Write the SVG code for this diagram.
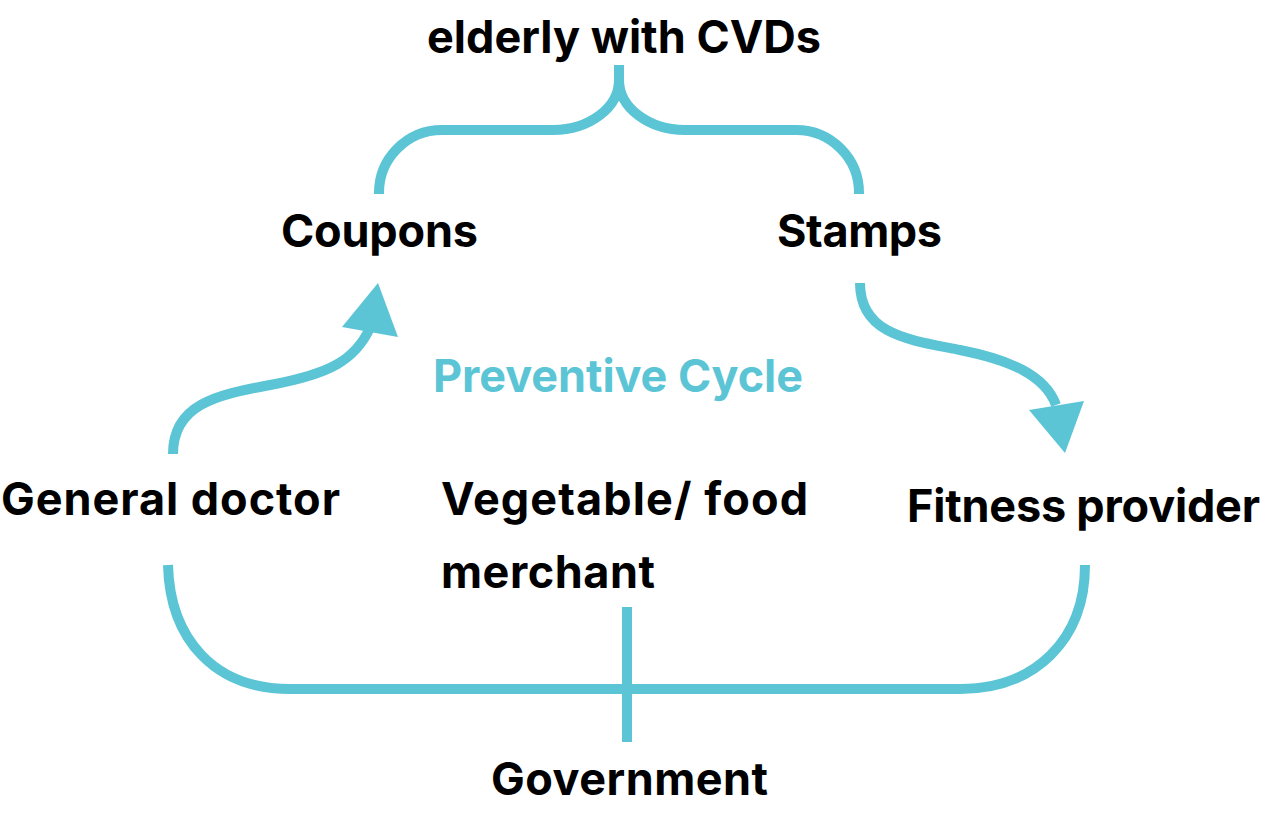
<svg xmlns="http://www.w3.org/2000/svg" width="1262" height="816" viewBox="0 0 1262 816">
<style>
.lbl{font-family:Inter,"Liberation Sans",sans-serif;font-weight:700;font-size:45px;fill:#000}
.cyc{fill:#5BC5D5}
.ln{fill:none;stroke:#5BC5D5;stroke-width:10}
.hd{fill:#5BC5D5}
</style>
<rect width="1262" height="816" fill="#fff"/>
<g id="connectors">
<path class="ln" d="M379,194 A63,63 0 0 1 442,130 H553 A66,50 0 0 0 619,80 V65 M619,80 A66,50 0 0 0 685,130 H796 A63,63 0 0 1 859,194"/>
<path class="ln" d="M173,454 C173,405 215,395 270,385 C330,374 355,360 370,328"/>
<polygon class="hd" points="378,283 342,327 398,337"/>
<path class="ln" d="M860,283 C860,335 910,340 960,350 C1010,360 1045,375 1056,405"/>
<polygon class="hd" points="1065,453 1029,410 1084,401"/>
<path class="ln" d="M168,565 C170,640 215,689 290,689 H960 C1035,689 1085,640 1085,565"/>
<path class="ln" d="M627,607 V742"/>
</g>
<g id="elderly"><text class="lbl" x="427" y="53" textLength="394" lengthAdjust="spacing">elderly with CVDs</text></g>
<g id="coupons"><text class="lbl" x="281" y="247" textLength="197" lengthAdjust="spacing">Coupons</text></g>
<g id="stamps"><text class="lbl" x="777" y="247" textLength="165" lengthAdjust="spacing">Stamps</text></g>
<g id="cycle"><text class="lbl cyc" x="433" y="392" textLength="370" lengthAdjust="spacing">Preventive Cycle</text></g>
<g id="doctor"><text class="lbl" x="1" y="515" textLength="339" lengthAdjust="spacing">General doctor</text></g>
<g id="merchant"><text class="lbl" x="441" y="515" textLength="367" lengthAdjust="spacing">Vegetable/ food</text><text class="lbl" x="441" y="588" textLength="214" lengthAdjust="spacing">merchant</text></g>
<g id="fitness"><text class="lbl" x="907" y="522" textLength="353" lengthAdjust="spacing">Fitness provider</text></g>
<g id="government"><text class="lbl" x="491" y="795" textLength="277" lengthAdjust="spacing">Government</text></g>
</svg>
